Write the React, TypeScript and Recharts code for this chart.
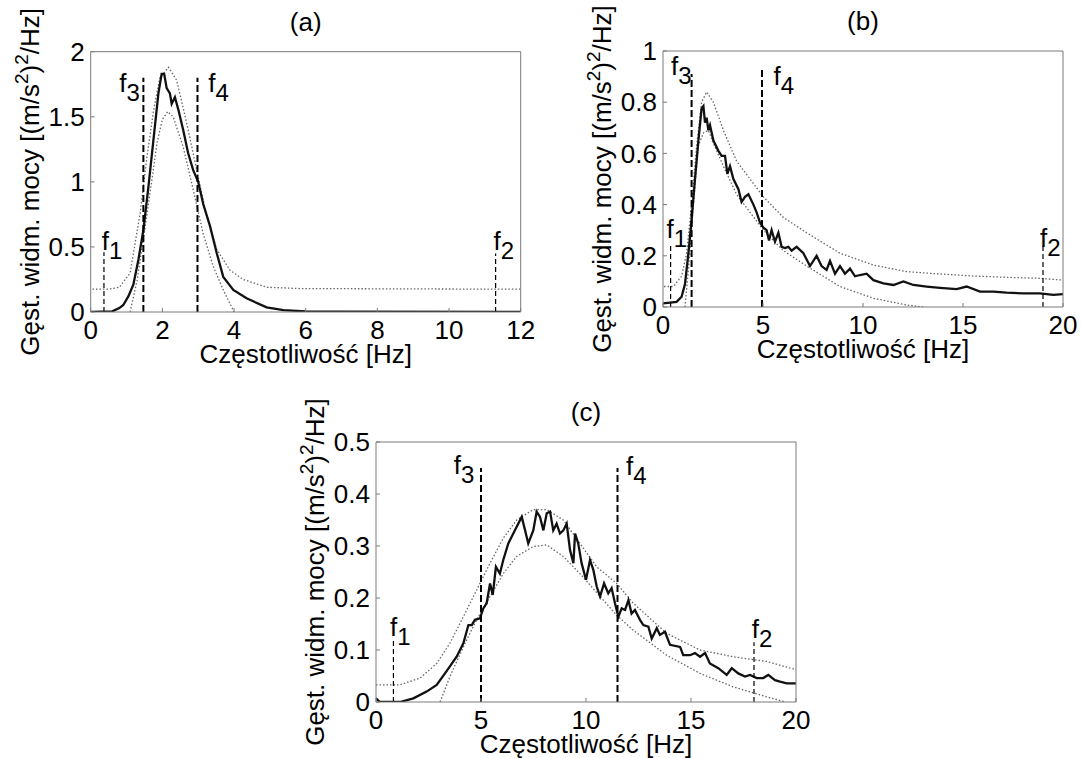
import React from 'react';
import { LineChart, Line, XAxis, YAxis, ReferenceLine, ReferenceDot } from 'recharts';

// ---- panel (a) ----
const aFreqTicks = [0, 2, 4, 6, 8, 10, 12];
const aPsdTicks = [0, 0.5, 1, 1.5, 2];
// [frequency Hz, PSD]
const aMeasured = [
  [0, 0], [0.6, 0.005], [0.8, 0.03], [0.91, 0.054], [1.05, 0.12], [1.19, 0.21], [1.33, 0.4],
  [1.47, 0.63], [1.61, 0.96], [1.75, 1.32], [1.89, 1.68], [1.98, 1.83], [2.05, 1.83], [2.12, 1.72],
  [2.21, 1.68], [2.26, 1.6], [2.35, 1.65], [2.45, 1.55], [2.58, 1.4], [2.72, 1.22], [2.86, 1.09],
  [3.0, 1.0], [3.14, 0.83], [3.33, 0.66], [3.52, 0.45], [3.7, 0.27], [3.98, 0.17], [4.35, 0.105],
  [4.91, 0.036], [5.38, 0.015], [6.0, 0.005], [7.0, 0.002], [12, 0],
];
const aUpper = [
  [0.05, 0.175], [0.5, 0.175], [0.8, 0.19], [1.1, 0.3], [1.38, 0.76], [1.56, 1.17], [1.75, 1.54],
  [1.93, 1.8], [2.17, 1.88], [2.4, 1.78], [2.68, 1.45], [2.96, 1.09], [3.24, 0.73], [3.52, 0.48],
  [3.89, 0.32], [4.26, 0.25], [4.91, 0.19], [5.84, 0.18], [12, 0.175],
];
const aLower = [
  [1.1, 0], [1.3, 0.25], [1.5, 0.62], [1.7, 1.0], [1.85, 1.3], [2.0, 1.48], [2.15, 1.54], [2.3, 1.5],
  [2.58, 1.27], [2.86, 0.94], [3.14, 0.6], [3.42, 0.35], [3.7, 0.17], [4.0, 0],
];
// marker line: frequency, top of line, label anchor (f, psd)
const aMarkers = [
  { sub: '1', f: 0.37, top: 0.46, labelF: 0.31, labelV: 0.476 },
  { sub: '3', f: 1.47, top: 1.8, labelF: 0.8, labelV: 1.69 },
  { sub: '4', f: 2.98, top: 1.8, labelF: 3.28, labelV: 1.69 },
  { sub: '2', f: 11.3, top: 0.45, labelF: 11.24, labelV: 0.476 },
];

// ---- panel (b) ----
const bFreqTicks = [0, 5, 10, 15, 20];
const bPsdTicks = [0, 0.2, 0.4, 0.6, 0.8, 1];
const bMeasured = [
  [0, 0.014], [0.35, 0.017], [0.68, 0.02], [0.93, 0.04], [1.1, 0.09], [1.27, 0.21], [1.43, 0.34],
  [1.6, 0.5], [1.77, 0.65], [1.93, 0.776], [2.02, 0.785], [2.1, 0.72], [2.18, 0.74], [2.27, 0.69],
  [2.35, 0.71], [2.52, 0.65], [2.77, 0.61], [2.93, 0.59], [3.1, 0.59], [3.22, 0.52], [3.35, 0.55],
  [3.52, 0.5], [3.77, 0.46], [3.93, 0.41], [4.1, 0.43], [4.27, 0.44], [4.52, 0.4], [4.68, 0.37],
  [4.85, 0.33], [5.02, 0.31], [5.18, 0.3], [5.3, 0.26], [5.43, 0.3], [5.6, 0.255], [5.77, 0.29],
  [5.93, 0.235], [6.1, 0.23], [6.27, 0.235], [6.43, 0.22], [6.68, 0.235], [7.02, 0.21], [7.35, 0.16],
  [7.68, 0.2], [7.93, 0.16], [8.18, 0.145], [8.35, 0.18], [8.6, 0.13], [8.85, 0.16], [9.1, 0.13],
  [9.35, 0.15], [9.6, 0.12], [9.85, 0.125], [10.18, 0.13], [10.52, 0.105], [11.02, 0.092],
  [11.52, 0.086], [12.02, 0.1], [12.52, 0.086], [13.18, 0.08], [13.85, 0.075], [14.68, 0.07],
  [15.18, 0.08], [15.85, 0.06], [16.52, 0.06], [17.18, 0.056], [18.02, 0.053], [18.85, 0.053],
  [19.52, 0.047], [20, 0.05],
];
const bUpper = [
  [0.05, 0.08], [0.52, 0.08], [0.93, 0.12], [1.18, 0.21], [1.43, 0.4], [1.68, 0.63], [1.93, 0.8],
  [2.18, 0.84], [2.52, 0.8], [3.02, 0.69], [3.68, 0.57], [4.35, 0.5], [5.02, 0.43], [6.02, 0.35],
  [7.18, 0.29], [8.85, 0.21], [10.52, 0.164], [12.18, 0.138], [13.85, 0.129], [15.52, 0.121],
  [17.18, 0.116], [18.85, 0.112], [20, 0.105],
];
const bLower = [
  [1.1, 0], [1.27, 0.145], [1.52, 0.4], [1.77, 0.63], [2.02, 0.68], [2.27, 0.69], [2.52, 0.64],
  [3.02, 0.55], [3.68, 0.44], [4.35, 0.37], [5.02, 0.3], [6.02, 0.22], [7.18, 0.16], [8.85, 0.08],
  [10.52, 0.034], [12.18, 0.008], [13.02, 0],
];
const bMarkers = [
  { sub: '1', f: 0.38, top: 0.24, labelF: 0.18, labelV: 0.268 },
  { sub: '3', f: 1.43, top: 0.91, labelF: 0.4, labelV: 0.906 },
  { sub: '4', f: 4.95, top: 0.93, labelF: 5.52, labelV: 0.867 },
  { sub: '2', f: 19.0, top: 0.25, labelF: 18.85, labelV: 0.236 },
];

// ---- panel (c) ----
const cFreqTicks = [0, 5, 10, 15, 20];
const cPsdTicks = [0, 0.1, 0.2, 0.3, 0.4, 0.5];
const cMeasured = [
  [0, 0.007], [0.19, 0], [1.14, 0], [1.78, 0.007], [2.41, 0.02], [2.89, 0.033], [3.37, 0.06],
  [3.84, 0.087], [4.16, 0.113], [4.4, 0.148], [4.56, 0.148], [4.71, 0.158], [4.95, 0.161],
  [5.11, 0.18], [5.27, 0.19], [5.43, 0.228], [5.56, 0.206], [5.71, 0.26], [5.9, 0.247], [6.06, 0.273],
  [6.3, 0.305], [6.46, 0.318], [6.7, 0.337], [6.94, 0.356], [7.1, 0.33], [7.25, 0.305], [7.49, 0.33],
  [7.65, 0.366], [7.81, 0.356], [7.97, 0.33], [8.13, 0.363], [8.29, 0.366], [8.44, 0.33], [8.6, 0.343],
  [8.76, 0.324], [8.92, 0.33], [9.08, 0.343], [9.24, 0.292], [9.4, 0.267], [9.48, 0.324],
  [9.63, 0.305], [9.79, 0.267], [10.0, 0.235], [10.19, 0.273], [10.35, 0.254], [10.51, 0.222],
  [10.67, 0.203], [10.86, 0.228], [11.06, 0.209], [11.22, 0.219], [11.38, 0.19], [11.54, 0.164],
  [11.7, 0.18], [11.86, 0.177], [12.02, 0.196], [12.17, 0.17], [12.33, 0.177], [12.57, 0.158],
  [12.73, 0.148], [12.97, 0.145], [13.13, 0.122], [13.37, 0.142], [13.52, 0.129], [13.76, 0.135],
  [14.0, 0.11], [14.48, 0.106], [14.63, 0.09], [14.95, 0.09], [15.19, 0.094], [15.43, 0.087],
  [15.67, 0.094], [15.9, 0.074], [16.3, 0.065], [16.7, 0.052], [16.94, 0.065], [17.25, 0.055],
  [17.57, 0.049], [17.81, 0.052], [18.13, 0.046], [18.44, 0.046], [18.68, 0.052], [19.0, 0.042],
  [19.24, 0.039], [19.56, 0.036], [20, 0.036],
];
const cUpper = [
  [0, 0.033], [1.14, 0.033], [2.1, 0.046], [2.89, 0.074], [3.52, 0.113], [4.16, 0.164], [4.79, 0.215],
  [5.43, 0.267], [6.06, 0.315], [6.7, 0.35], [7.49, 0.37], [8.13, 0.37], [8.92, 0.35], [9.71, 0.305],
  [10.51, 0.26], [11.46, 0.228], [12.25, 0.19], [13.84, 0.132], [15.43, 0.1], [17.02, 0.087],
  [18.6, 0.078], [20, 0.062],
];
const cLower = [
  [3.05, 0], [3.52, 0.049], [4.16, 0.106], [4.79, 0.158], [5.43, 0.203], [6.06, 0.247], [6.7, 0.28],
  [7.49, 0.299], [8.13, 0.302], [8.92, 0.28], [9.87, 0.24], [10.67, 0.203], [11.46, 0.167],
  [12.25, 0.138], [13.84, 0.09], [15.43, 0.055], [17.02, 0.029], [18.6, 0.01], [19.5, 0],
];
const cMarkers = [
  { sub: '1', f: 0.83, top: 0.12, labelF: 0.67, labelV: 0.126 },
  { sub: '3', f: 5.0, top: 0.45, labelF: 3.7, labelV: 0.438 },
  { sub: '4', f: 11.5, top: 0.45, labelF: 11.9, labelV: 0.437 },
  { sub: '2', f: 18.0, top: 0.115, labelF: 17.89, labelV: 0.1225 },
];

const FONT = "'Liberation Sans', Arial, Helvetica, sans-serif";
const AXIS = '#7a7a7a';
const FS = 26;

const toPoints = (pairs: number[][]) => pairs.map(([f, v]) => ({ f, v }));

const PanelTitle = ({ viewBox, text }: any) => (
  <text x={viewBox.x + viewBox.width / 2} y={viewBox.y - 20} textAnchor="middle" fontSize={FS} fill="#000">
    {text}
  </text>
);

const FreqTitle = ({ viewBox }: any) => (
  <text x={viewBox.x + viewBox.width / 2} y={viewBox.y + 51} textAnchor="middle" fontSize={FS} fill="#000">
    Częstotliwość [Hz]
  </text>
);

const PsdTitle = ({ viewBox }: any) => {
  const x = viewBox.x + viewBox.width - 52;
  const y = viewBox.y + viewBox.height / 2;
  return (
    <text x={x} y={y} transform={`rotate(-90 ${x} ${y})`} textAnchor="middle" fontSize={FS} fill="#000">
      Gęst. widm. mocy [(m/s
      <tspan dy={-11} fontSize={19}>2</tspan>
      <tspan dy={11}>)</tspan>
      <tspan dy={-11} fontSize={19}>2</tspan>
      <tspan dy={11}>/Hz]</tspan>
    </text>
  );
};

const FLabel = ({ cx, cy, sub }: any) => (
  <text x={cx} y={cy} fontSize={FS} fill="#000">
    f<tspan dy={9} fontSize={24}>{sub}</tspan>
  </text>
);

interface PanelProps {
  left: number;
  top: number;
  width: number;
  height: number;
  plotLeft: number;
  plotTop: number;
  plotRight: number;
  plotBottom: number;
  title: string;
  xMax: number;
  yMax: number;
  xTicks: number[];
  yTicks: number[];
  measured: number[][];
  upper: number[][];
  lower: number[][];
  markers: { sub: string; f: number; top: number; labelF: number; labelV: number }[];
}

const Panel: React.FC<PanelProps> = (p) => {
  const margin = {
    left: p.plotLeft - 50,
    top: p.plotTop - 1,
    right: p.width - p.plotRight - 1,
    bottom: p.height - p.plotBottom - 30,
  };
  const xDomain = [0, p.xMax];
  const yDomain = [0, p.yMax];
  return (
    <div style={{ position: 'absolute', left: p.left, top: p.top }}>
      <LineChart width={p.width} height={p.height} margin={margin}>
        <XAxis
          type="number"
          dataKey="f"
          domain={xDomain}
          ticks={p.xTicks}
          interval={0}
          allowDataOverflow
          height={30}
          stroke={AXIS}
          tickSize={-4}
          tickMargin={13}
          tick={{ fill: '#000', fontSize: FS }}
          label={(props: any) => <FreqTitle {...props} />}
        />
        <XAxis
          xAxisId="top"
          orientation="top"
          type="number"
          dataKey="f"
          domain={xDomain}
          ticks={p.xTicks}
          interval={0}
          allowDataOverflow
          height={1}
          stroke={AXIS}
          tickSize={-4}
          tick={false}
          label={(props: any) => <PanelTitle {...props} text={p.title} />}
        />
        <YAxis
          type="number"
          domain={yDomain}
          ticks={p.yTicks}
          interval={0}
          allowDataOverflow
          width={50}
          stroke={AXIS}
          tickSize={-4}
          tickMargin={10}
          tick={{ fill: '#000', fontSize: FS }}
          label={(props: any) => <PsdTitle {...props} />}
        />
        <YAxis
          yAxisId="right"
          orientation="right"
          type="number"
          domain={yDomain}
          ticks={p.yTicks}
          interval={0}
          allowDataOverflow
          width={1}
          stroke={AXIS}
          tickSize={-4}
          tick={false}
        />
        <Line
          data={toPoints(p.upper)}
          dataKey="v"
          stroke="#666"
          strokeWidth={1.3}
          strokeDasharray="1.5 2"
          dot={false}
          isAnimationActive={false}
        />
        <Line
          data={toPoints(p.lower)}
          dataKey="v"
          stroke="#666"
          strokeWidth={1.3}
          strokeDasharray="1.5 2"
          dot={false}
          isAnimationActive={false}
        />
        <Line
          data={toPoints(p.measured)}
          dataKey="v"
          stroke="#111"
          strokeWidth={2.3}
          dot={false}
          isAnimationActive={false}
        />
        {p.markers.map((m) => {
          const bold = m.sub === '3' || m.sub === '4';
          return (
            <ReferenceLine
              key={'l' + m.sub}
              segment={[{ x: m.f, y: 0 }, { x: m.f, y: m.top }]}
              stroke="#000"
              strokeWidth={bold ? 2 : 1.2}
              strokeDasharray={bold ? '7 3' : '5 3'}
            />
          );
        })}
        {p.markers.map((m) => (
          <ReferenceDot
            key={'d' + m.sub}
            x={m.labelF}
            y={m.labelV}
            r={0}
            shape={(props: any) => <FLabel cx={props.cx} cy={props.cy} sub={m.sub} />}
          />
        ))}
      </LineChart>
    </div>
  );
};

export default function App() {
  return (
    <div
      style={{
        position: 'absolute',
        left: 0,
        top: 0,
        width: 1081,
        height: 758,
        background: '#fff',
        fontFamily: FONT,
      }}
    >
      <Panel
        left={0}
        top={0}
        width={540}
        height={380}
        plotLeft={90.7}
        plotTop={51.7}
        plotRight={520.7}
        plotBottom={312}
        title="(a)"
        xMax={12}
        yMax={2}
        xTicks={aFreqTicks}
        yTicks={aPsdTicks}
        measured={aMeasured}
        upper={aUpper}
        lower={aLower}
        markers={aMarkers}
      />
      <Panel
        left={540}
        top={0}
        width={541}
        height={380}
        plotLeft={123}
        plotTop={51}
        plotRight={523}
        plotBottom={307}
        title="(b)"
        xMax={20}
        yMax={1}
        xTicks={bFreqTicks}
        yTicks={bPsdTicks}
        measured={bMeasured}
        upper={bUpper}
        lower={bLower}
        markers={bMarkers}
      />
      <Panel
        left={270}
        top={380}
        width={560}
        height={378}
        plotLeft={106}
        plotTop={62}
        plotRight={526}
        plotBottom={322}
        title="(c)"
        xMax={20}
        yMax={0.5}
        xTicks={cFreqTicks}
        yTicks={cPsdTicks}
        measured={cMeasured}
        upper={cUpper}
        lower={cLower}
        markers={cMarkers}
      />
    </div>
  );
}
